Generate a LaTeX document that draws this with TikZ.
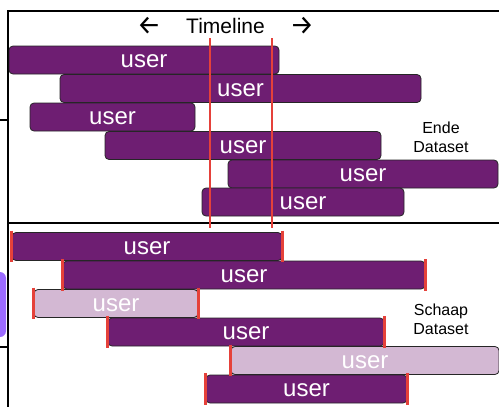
\documentclass[tikz,border=0pt]{standalone}
\usepackage{fontspec}
\setmainfont{Liberation Sans}
\newfontfamily\arrowfont{Fira Sans}
\usetikzlibrary{positioning}

\definecolor{userpurple}{HTML}{6E1E72}
\definecolor{userlight}{HTML}{D3B8D3}
\definecolor{cutred}{HTML}{E5413A}
\definecolor{tabviolet}{HTML}{9B6BFF}

\begin{document}
\begin{tikzpicture}[
    x=1pt, y=-1pt,
    user/.style={rectangle, draw=black!85, line width=0.8pt, rounded corners=4pt,
        fill=userpurple, text=white, inner sep=0pt, minimum height=28pt,
        text height=16pt, font=\fontsize{24}{26}\selectfont},
    faded/.style={user, fill=userlight},
    frame/.style={line width=2pt},
    cut/.style={cutred, line width=2.8pt},
    tick/.style={cutred, line width=2.5pt},
    dataset/.style={align=center, inner sep=0pt, font=\fontsize{16}{19}\selectfont},
    heading/.style={inner sep=0pt, font=\fontsize{21}{24}\selectfont}
]
\useasboundingbox (0,0) rectangle (499,407);

% frame of the two panels
\fill[tabviolet, rounded corners=6pt] (-12,272) rectangle (6,337);
\draw[frame] (7,11) -- (499,11);
\draw[frame] (8,11) -- (8,407);
\draw[frame] (8,223) -- (499,223);
\draw[frame] (0,120) -- (8,120);
\draw[frame] (0,347) -- (8,347);

% heading
\node[heading] (timeline) at (225.5,26) {Timeline};
\node[heading] (back) at (149,26) {\arrowfont\fontsize{27}{28}\selectfont ←};
\node[heading] (forward) at (302,26) {\arrowfont\fontsize{27}{28}\selectfont →};

% Ende sessions
\node[user, minimum width=270pt] (e1) at (144,60) {user};
\node[user, minimum width=361pt] (e2) at (240.5,88.5) {user};
\node[user, minimum width=165pt] (e3) at (112.5,117) {user};
\node[user, minimum width=276pt] (e4) at (243,145.5) {user};
\node[user, minimum width=270pt] (e5) at (363,174) {user};
\node[user, minimum width=202pt] (e6) at (303,202) {user};
\node[dataset] (ende) at (441,137) {Ende\\Dataset};

% window cuts
\coordinate (cutA top) at (210,38);
\coordinate (cutA bottom) at (210,228);
\coordinate (cutB top) at (272,38);
\coordinate (cutB bottom) at (272,228);
\draw[cut] (cutA top) -- (cutA bottom);
\draw[cut] (cutB top) -- (cutB bottom);

% Schaap sessions
\node[user, minimum width=270pt] (s1) at (147,246.5) {user};
\node[user, minimum width=362pt] (s2) at (244,275) {user};
\node[faded, minimum width=164pt] (s3) at (116,303.5) {user};
\node[user, minimum width=276pt] (s4) at (246,332) {user};
\node[faded, minimum width=268pt] (s5) at (365,360.5) {user};
\node[user, minimum width=201pt] (s6) at (306.5,389) {user};
\node[dataset] (schaap) at (441,319) {Schaap\\Dataset};

% session boundaries
\foreach \b in {s1,s2,s3,s4,s5,s6}
  \draw[tick] ([yshift=1.5pt]\b.north west) -- ([yshift=-1.5pt]\b.south west);
\foreach \b in {s1,s2,s3,s4,s6}
  \draw[tick] ([yshift=1.5pt]\b.north east) -- ([yshift=-1.5pt]\b.south east);

\end{tikzpicture}
\end{document}
